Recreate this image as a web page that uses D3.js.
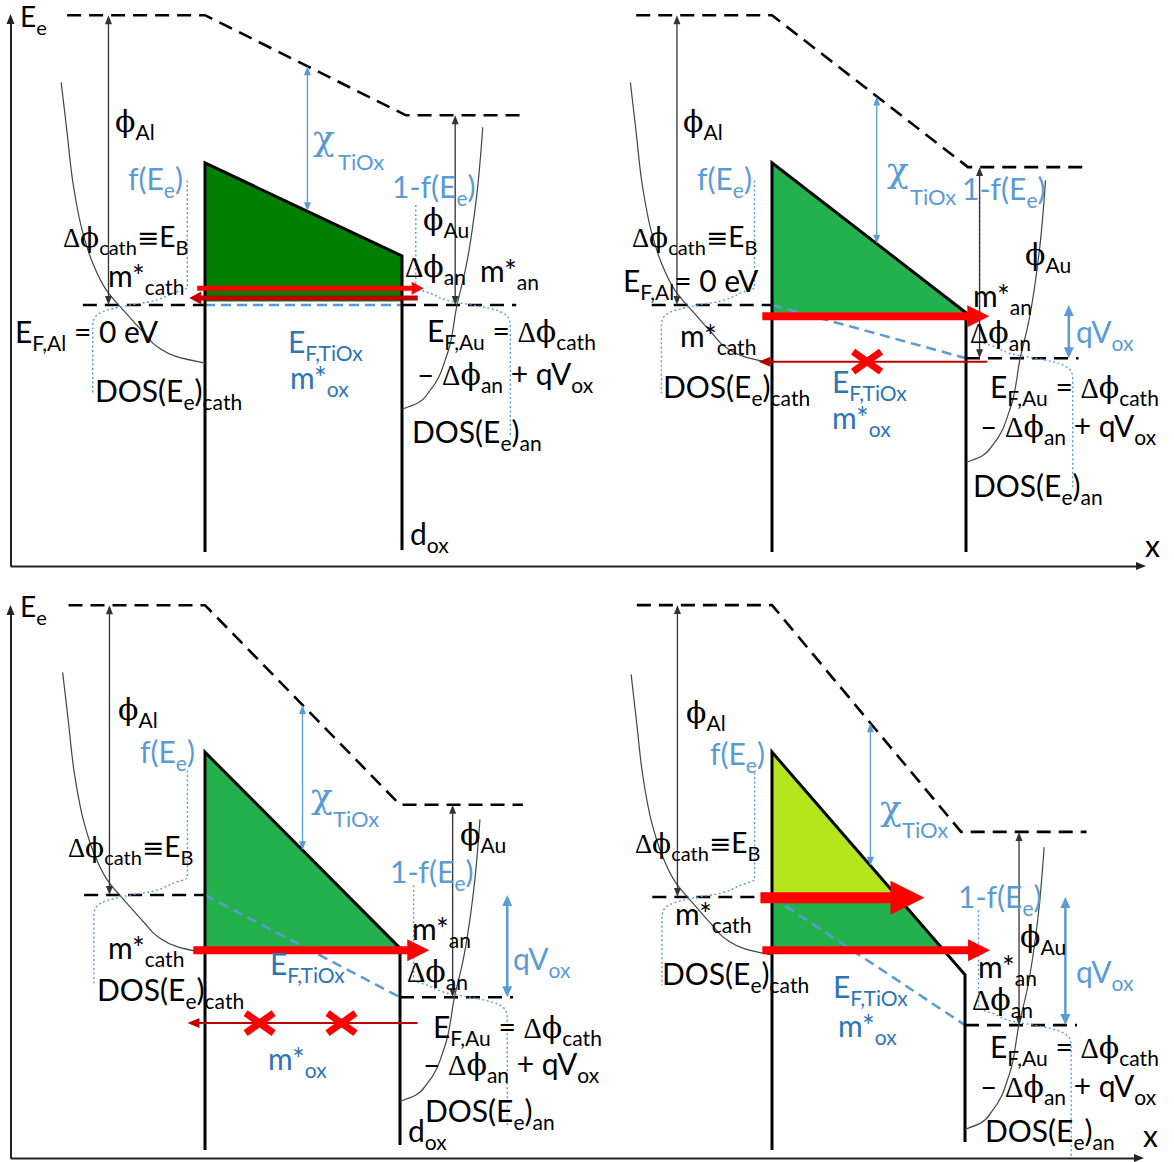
<!DOCTYPE html>
<html><head><meta charset="utf-8">
<script src="https://cdn.jsdelivr.net/npm/d3@7"></script>
<style>body{margin:0;background:#fff}svg{display:block}text{white-space:pre}</style>
</head><body>
<svg id="c" width="1174" height="1162"></svg>
<script>
// Al / TiOx / Au band diagrams for four bias cases (energies in eV, relative to E_F,Al)
const caseNames   = ["zero bias", "low bias", "medium bias", "high bias"];
const vacuumAl    = [4.14, 4.14, 4.14, 4.17];
const vacuumAu    = [2.71, 1.97, 1.29, 0.93];
const barrierCath = [2.03, 2.03, 2.04, 2.07];
const barrierAn   = [0.70, -0.11, -0.76, -1.11];
const fermiAu     = [0.00, -0.76, -1.46, -1.83];
// occupied oxide states: lower edge, and the level splitting the lighter top part
const chargeFloor = [0.05, -0.11, -0.76, -0.73];
const chargeSplit = [null, null, null, 0];
const cathBandBottom = -0.83;   // cathode conduction band bottom
const anBandDepth = 1.49;       // anode band bottom below E_F,Au

// density of states (energy above band bottom, width in units of d_ox)
const dosCathE = [0, 0.09, 0.23, 0.43, 0.71, 1.04, 1.43, 1.86, 2.57, 3.29, 4.01];
const dosCathG = [0, 0.14, 0.24, 0.31, 0.40, 0.50, 0.57, 0.62, 0.67, 0.70, 0.73];
const dosAnE   = [0, 0.09, 0.26, 0.79, 1.50, 1.97, 3.07, 4.03];
const dosAnG   = [0, 0.08, 0.14, 0.23, 0.28, 0.32, 0.38, 0.41];
// Fermi step around E_F (E - E_F, occupation)
const fermiStepE = [0.25, 0.17, 0.04, 0, -0.10, -0.21, -0.30];
const fermiStepF = [0, 0.15, 0.42, 0.60, 0.90, 0.99, 1];
const fermiAnTop = [1.43, 2.30, 1.60, 1.64];

// tunnelling electrons: energy, start/end (units of d_ox), blocked points
const currents = [
  [{E: 0.24, u0: -0.04, u1: 1.11, kind: "bar", color: "#ff0000"},
   {E: 0.10, u0: 1.08, u1: -0.08, kind: "bar", color: "#c00000"}],
  [{E: -0.16, u0: -0.05, u1: 1.12, kind: "thick", color: "#ff0000"},
   {E: -0.81, u0: 1.11, u1: -0.07, kind: "thin", color: "#c00000", blocked: [0.49]}],
  [{E: -0.79, u0: -0.06, u1: 1.15, kind: "thick", color: "#ff0000"},
   {E: -1.83, u0: 1.09, u1: -0.09, kind: "thin", color: "#c00000", blocked: [0.28, 0.70]}],
  [{E: -0.01, u0: -0.06, u1: 0.79, kind: "big", color: "#ff0000"},
   {E: -0.76, u0: -0.05, u1: 1.13, kind: "thick", color: "#ff0000"}]
];

// panel placement
const layout = [
  {cx: 205, w: 197, ef: 305, cathFloor: 552, anFloor: 550, bend: 1.02, phiAu: 1.27, chi: 0.52, qv: null},
  {cx: 772, w: 194, ef: 305, cathFloor: 552, anFloor: 552, bend: 1.01, phiAu: 1.07, chi: 0.54, qv: 1.53},
  {cx: 205, w: 195, ef: 895, cathFloor: 1150, anFloor: 1145, bend: 1.00, phiAu: 1.27, chi: 0.50, qv: 1.55},
  {cx: 772, w: 193, ef: 897, cathFloor: 1150, anFloor: 1142, bend: 0.98, phiAu: 1.28, chi: 0.51, qv: 1.52}
];
const PX_PER_EV = 70;
const fillColor = ["#008000", "#22b14c", "#22b14c", "#22b14c"];
const LIME = "#b5e61d";
const BLUE = "#5b9bd5", DBLUE = "#2e75b6";
const arrowKinds = {
  bar:   {w: 5, hl: 12, hh: 6.5},
  thick: {w: 8, hl: 22, hh: 11},
  big:   {w: 11, hl: 34, hh: 17},
  thin:  {w: 2, hl: 12, hh: 5}
};

const svg = d3.select("#c");
const FONT = "Lato, 'Open Sans', sans-serif";
const SYM = {"Δ": "'Liberation Serif', serif", "ϕ": "'DejaVu Serif', serif", "χ": "'DejaVu Serif', serif", "≡": "'DejaVu Sans', sans-serif"};

function rich(g, x, y, str, o = {}) {
  const size = o.size || 30, sub = Math.round(size * 0.7), drop = Math.round(size * 0.27);
  const t = g.append("text").attr("x", x).attr("y", y)
    .attr("fill", o.color || "#000").attr("font-family", FONT).attr("font-size", size);
  const re = /_\{([^}]*)\}|([Δϕχ≡])|([^_Δϕχ≡]+)/g;
  let m, low = false;
  while ((m = re.exec(str))) {
    const ts = t.append("tspan");
    if (m[1] !== undefined) {
      ts.text(m[1]).attr("font-size", sub);
      if (!low) { ts.attr("dy", drop); low = true; }
    } else {
      if (low) { ts.attr("dy", -drop); low = false; }
      const s = m[2] || m[3];
      ts.text(s);
      if (m[2]) ts.attr("font-family", SYM[m[2]]).attr("font-size", m[2] === "ϕ" ? size * 1.0 : size * 0.95);
    }
  }
  return t;
}

function headPath(x, y, dx, dy, len, half) {
  // triangle with tip at (x,y) pointing along (dx,dy)
  const bx = x - dx * len, by = y - dy * len;
  return `M${x},${y}L${bx - dy * half},${by + dx * half}L${bx + dy * half},${by - dx * half}Z`;
}

function vArrow(g, x, y1, y2, o) {
  const d = y2 > y1 ? 1 : -1;
  g.append("line").attr("x1", x).attr("x2", x).attr("y1", y1 + d * o.hl * 0.6)
    .attr("y2", y2 - d * o.hl * 0.6)
    .attr("stroke", o.color).attr("stroke-width", o.sw);
  g.append("path").attr("d", headPath(x, y2, 0, d, o.hl, o.hh)).attr("fill", o.color);
  g.append("path").attr("d", headPath(x, y1, 0, -d, o.hl, o.hh)).attr("fill", o.color);
}

// axes
const xAxisScale = d3.scaleLinear().domain([0, 1]);
function axisArrow(tx, ty, dx, dy) {
  svg.append("path").attr("d", headPath(tx, ty, dx, dy, 10, 4)).attr("fill", "#222");
}
[[566, 1140], [1158, 1138]].forEach(([y, end]) => {
  const g = svg.append("g").attr("transform", `translate(0,${y})`)
    .call(d3.axisBottom(xAxisScale.copy().range([10, end])).tickValues([]).tickSizeOuter(0));
  g.select(".domain").attr("stroke", "#222").attr("stroke-width", 2);
  axisArrow(end + 6, y, 1, 0);
});
[[566, 20], [1158, 611]].forEach(([y0, y1]) => {
  const g = svg.append("g").attr("transform", "translate(10.5,0)")
    .call(d3.axisLeft(d3.scaleLinear().domain([0, 1]).range([y0, y1])).tickValues([]).tickSizeOuter(0));
  g.select(".domain").attr("stroke", "#222").attr("stroke-width", 2);
  axisArrow(10.5, y1 - 6, 0, -1);
});

caseNames.forEach((name, i) => {
  const L = layout[i];
  const x = d3.scaleLinear().domain([0, 1]).range([L.cx, L.cx + L.w]);
  const y = d3.scaleLinear().domain([0, 1]).range([L.ef, L.ef - PX_PER_EV]);
  const g = svg.append("g").attr("class", "case").attr("data-case", name);
  const line = d3.line().x(d => x(d[0])).y(d => y(d[1]));
  const bc = barrierCath[i], ba = barrierAn[i];
  const uB = E => Math.min(1, (bc - E) / (bc - ba));

  // occupied states under the oxide barrier
  function band(lo, hi, color) {
    const pts = [[0, hi], [uB(hi), hi]];
    if (ba < hi && ba > lo) pts.push([1, ba]);
    pts.push([uB(lo), lo], [0, lo]);
    g.append("path").attr("d", line(pts) + "Z").attr("fill", color);
  }
  if (chargeSplit[i] === null) band(chargeFloor[i], bc, fillColor[i]);
  else { band(chargeSplit[i], bc, LIME); band(chargeFloor[i], chargeSplit[i], fillColor[i]); }

  // oxide quasi-Fermi level
  g.append("path").attr("d", line([[0, 0], [1, fermiAu[i]]]))
    .attr("fill", "none").attr("stroke", BLUE).attr("stroke-width", 2.5).attr("stroke-dasharray", "10 6");

  // vacuum level
  g.append("path").attr("d", line([[-0.70, vacuumAl[i]], [0, vacuumAl[i]], [L.bend, vacuumAu[i]], [1.63, vacuumAu[i]]]))
    .attr("fill", "none").attr("stroke", "#000").attr("stroke-width", 2.6).attr("stroke-dasharray", "14 8");
  // Fermi levels of the electrodes
  g.append("path").attr("d", line([[-0.62, 0], [0, 0]]))
    .attr("fill", "none").attr("stroke", "#000").attr("stroke-width", 2.6).attr("stroke-dasharray", "14 8");
  g.append("path").attr("d", line([[1, fermiAu[i]], [1.58, fermiAu[i]]]))
    .attr("fill", "none").attr("stroke", "#000").attr("stroke-width", 2.6).attr("stroke-dasharray", "14 8");

  // electrode interfaces and conduction band edge of the oxide
  g.append("path")
    .attr("d", `M${x(0)},${L.cathFloor}V${y(bc)}L${x(1)},${y(ba)}V${L.anFloor}`)
    .attr("fill", "none").attr("stroke", "#000").attr("stroke-width", 3).attr("stroke-linejoin", "miter");

  // density of states
  const mono = d3.line().x(d => x(d[0])).y(d => y(d[1])).curve(d3.curveMonotoneY);
  g.append("path").attr("d", mono(dosCathE.map((e, k) => [-dosCathG[k], cathBandBottom + e])))
    .attr("fill", "none").attr("stroke", "#444").attr("stroke-width", 1.2);
  const anBottom = fermiAu[i] - anBandDepth;
  g.append("path").attr("d", mono(dosAnE.map((e, k) => [1 + dosAnG[k], anBottom + e])))
    .attr("fill", "none").attr("stroke", "#444").attr("stroke-width", 1.2);

  // Fermi-Dirac occupation
  function fermi(ef, top, bottom, uEmpty, uFull) {
    const pts = [[uEmpty, ef + top]];
    fermiStepE.forEach((e, k) => pts.push([uEmpty + (uFull - uEmpty) * fermiStepF[k], ef + e]));
    pts.push([uFull, ef + bottom]);
    g.append("path").attr("d", mono(pts)).attr("fill", "none")
      .attr("stroke", BLUE).attr("stroke-width", 1.4).attr("stroke-dasharray", "2 2.5");
  }
  fermi(0, 1.78, -1.26, -0.09, -0.57);
  fermi(fermiAu[i], fermiAnTop[i], -1.87, 1.07, 1.55);

  // work functions, electron affinity, applied voltage
  vArrow(g, x(-0.49), y(vacuumAl[i]), y(0), {color: "#333", sw: 1.3, hl: 9, hh: 3.5});
  vArrow(g, x(L.phiAu), y(vacuumAu[i]), y(fermiAu[i]), {color: "#333", sw: 1.3, hl: 9, hh: 3.5});
  const vacAt = u => vacuumAl[i] + (vacuumAu[i] - vacuumAl[i]) * (u / L.bend);
  vArrow(g, x(L.chi), y(vacAt(L.chi)), y(bc + (ba - bc) * L.chi), {color: BLUE, sw: 1.3, hl: 9, hh: 3.5});
  if (L.qv !== null) vArrow(g, x(L.qv), y(0), y(fermiAu[i]), {color: BLUE, sw: 2.5, hl: 11, hh: 5});

  // tunnelling currents
  currents[i].forEach(c => {
    const k = arrowKinds[c.kind], yy = y(c.E), x0 = x(c.u0), tip = x(c.u1);
    const dir = Math.sign(tip - x0), base = tip - dir * k.hl;
    g.append("path").attr("fill", c.color).attr("d",
      `M${x0},${yy - k.w / 2}H${base}V${yy - k.hh}L${tip},${yy}L${base},${yy + k.hh}V${yy + k.w / 2}H${x0}Z`);
    (c.blocked || []).forEach(u => {
      const cx = x(u);
      g.append("path").attr("d", `M${cx - 14},${yy - 10}L${cx + 14},${yy + 10}M${cx - 14},${yy + 10}L${cx + 14},${yy - 10}`)
        .attr("stroke", "#ff0000").attr("stroke-width", 7);
    });
  });
});

// annotations
const labels = [
  // zero bias
  [20, 27, "E_{e}", "#000", 28], [115, 132, "ϕ_{Al}"], [128, 190, "f(E_{e})", BLUE],
  [392, 198, "1-f(E_{e})", BLUE], [423, 230, "ϕ_{Au}"], [63, 247, "Δϕ_{cath}≡E_{B}", "#000", 28],
  [405, 277, "Δϕ_{an}"], [480, 282, "m*_{an}"], [108, 287, "m*_{cath}"],
  [15, 343, "E_{F,Al} = 0 eV"], [288, 353, "E_{F,TiOx}", DBLUE], [290, 389, "m*_{ox}", DBLUE],
  [427, 342, "E_{F,Au} = Δϕ_{cath}"], [417, 385, "– Δϕ_{an} + qV_{ox}"],
  [95, 402, "DOS(E_{e})_{cath}"], [412, 443, "DOS(E_{e})_{an}"], [410, 545, "d_{ox}"],
  // low bias
  [683, 132, "ϕ_{Al}"], [697, 190, "f(E_{e})", BLUE], [962, 200, "1-f(E_{e})", BLUE],
  [1025, 265, "ϕ_{Au}"], [632, 247, "Δϕ_{cath}≡E_{B}", "#000", 28], [623, 292, "E_{F,Al}= 0 eV"],
  [973, 307, "m*_{an}"], [970, 343, "Δϕ_{an}"], [1076, 343, "qV_{ox}", BLUE], [680, 347, "m*_{cath}"],
  [990, 398, "E_{F,Au} = Δϕ_{cath}"], [980, 437, "– Δϕ_{an} + qV_{ox}"], [663, 398, "DOS(E_{e})_{cath}"],
  [832, 393, "E_{F,TiOx}", DBLUE], [832, 429, "m*_{ox}", DBLUE], [973, 497, "DOS(E_{e})_{an}"],
  [1145, 557, "x"],
  // medium bias
  [20, 617, "E_{e}", "#000", 28], [118, 720, "ϕ_{Al}"], [140, 763, "f(E_{e})", BLUE], [460, 845, "ϕ_{Au}"],
  [390, 883, "1-f(E_{e})", BLUE], [68, 857, "Δϕ_{cath}≡E_{B}", "#000", 28], [412, 940, "m*_{an}"],
  [513, 970, "qV_{ox}", BLUE], [407, 982, "Δϕ_{an}"], [108, 959, "m*_{cath}"],
  [270, 975, "E_{F,TiOx}", DBLUE], [97, 1001, "DOS(E_{e})_{cath}"], [433, 1038, "E_{F,Au} = Δϕ_{cath}"],
  [423, 1075, "– Δϕ_{an} + qV_{ox}"], [268, 1070, "m*_{ox}", DBLUE], [425, 1122, "DOS(E_{e})_{an}"],
  [408, 1142, "d_{ox}"],
  // high bias
  [686, 723, "ϕ_{Al}"], [710, 765, "f(E_{e})", BLUE], [635, 853, "Δϕ_{cath}≡E_{B}", "#000", 28],
  [675, 925, "m*_{cath}"], [662, 985, "DOS(E_{e})_{cath}"], [833, 998, "E_{F,TiOx}", DBLUE],
  [838, 1037, "m*_{ox}", DBLUE], [958, 908, "1-f(E_{e})", BLUE], [1020, 947, "ϕ_{Au}"],
  [978, 978, "m*_{an}"], [1076, 983, "qV_{ox}", BLUE], [972, 1010, "Δϕ_{an}"],
  [990, 1058, "E_{F,Au} = Δϕ_{cath}"], [980, 1097, "– Δϕ_{an} + qV_{ox}"], [985, 1142, "DOS(E_{e})_{an}"],
  [1143, 1147, "x"]
];
const lg = svg.append("g").attr("class", "labels");
labels.forEach(([lx, ly, s, c, sz]) => rich(lg, lx, ly, s, {color: c || "#000", size: sz || 30}));

// electron affinity symbol with its low-set subscript
[[313, 150, 338, 170], [887, 182, 910, 205], [311, 808, 333, 827], [880, 820, 902, 838]].forEach(([a, b, c, d]) => {
  lg.append("text").attr("x", a).attr("y", b).attr("font-family", SYM["χ"]).attr("font-size", 36)
    .attr("fill", BLUE).text("χ");
  lg.append("text").attr("x", c).attr("y", d).attr("font-family", FONT).attr("font-size", 22)
    .attr("fill", BLUE).text("TiOx");
});
</script>
</body></html>
